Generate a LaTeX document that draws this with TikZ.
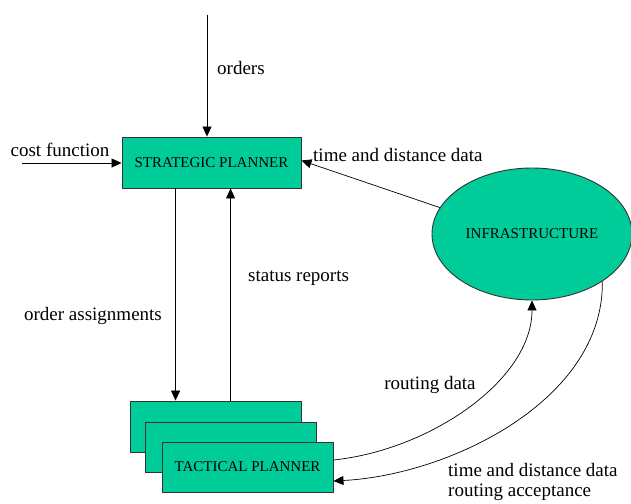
\documentclass[tikz,border=0pt]{standalone}
\usepackage{fontspec}
\setmainfont{Liberation Serif}
\usetikzlibrary{shapes.geometric,arrows.meta,calc}
\definecolor{boxgreen}{HTML}{00CC99}
\tikzset{
  box/.style={draw=black!80, line width=0.9pt, fill=boxgreen, rectangle, inner sep=0pt, minimum width=#1},
  box/.default=171pt,
  lbl/.style={font=\fontsize{19}{21}\selectfont, inner sep=0pt},
  boxtext/.style={font=\fontsize{15}{17}\selectfont},
  arr/.style={line width=0.7pt, -{Triangle[length=10pt,width=9pt]}},
  plain/.style={line width=0.7pt}
}
\begin{document}
\begin{tikzpicture}[x=1pt,y=-1pt]
\useasboundingbox (0,0) rectangle (631,503);
% strategic planner
\node[box=179pt, minimum height=51pt, boxtext] (sp) at (211.5,162.5) {STRATEGIC PLANNER};
% tactical planners (stacked)
\node[box, minimum height=51pt] (tp1) at (216,426.5) {};
\node[box, minimum height=50pt] (tp2) at (231,447) {};
\node[box, minimum height=50pt, boxtext] (tp3) at (247.5,467) {TACTICAL PLANNER};
% infrastructure
\node[ellipse, draw=black!80, line width=0.9pt, fill=boxgreen, inner sep=0pt, minimum width=200pt, minimum height=132pt, boxtext] (infra) at (532,234) {INFRASTRUCTURE};

% orders
\coordinate (ordsrc) at (207,15);
\draw[arr] (ordsrc) -- (ordsrc |- sp.north);
\node[lbl, anchor=west] (lorders) at (217,68) {orders};
% cost function
\coordinate (costsrc) at (22,163);
\draw[arr] (costsrc) -- (costsrc -| sp.west);
\node[lbl] (lcost) at (60,150) {cost function};
% time and distance data to strategic
\draw[arr] (infra.164) -- ($(sp.east)+(0,-2)$);
\node[lbl, anchor=west] (ltdd) at (313,155) {time and distance data};
% order assignments
\coordinate (oatop) at ($(sp.south west)+(54,0)$);
\draw[arr] (oatop) -- (oatop |- tp1.north);
\node[lbl] (loa) at (93,316) {order assignments};
% status reports
\coordinate (srtop) at ($(sp.south west)+(109,0)$);
\draw[arr] (srtop |- tp1.north) -- (srtop);
\node[lbl, anchor=west] (lsr) at (248,278) {status reports};
% routing data
\draw[arr] ($(tp3.east)+(0,-7)$) .. controls (430,450) and (532,380) .. (infra.south);
\node[lbl] (lrd) at (430,385) {routing data};
% time and distance data / routing acceptance
\draw[arr] (infra.-34) .. controls (604,400) and (450,475) .. ($(tp3.east)+(0,14)$);
\node[lbl, anchor=west] (ltdd2) at (448,470) {time and distance data};
\node[lbl, anchor=west] (lra) at (448,492) {routing acceptance};
\end{tikzpicture}
\end{document}
